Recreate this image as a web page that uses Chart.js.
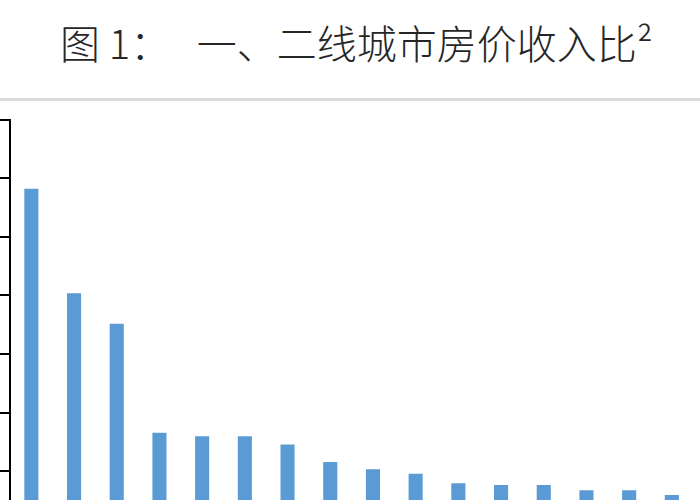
<!DOCTYPE html>
<html>
<head>
<meta charset="utf-8">
<script src="https://cdn.jsdelivr.net/npm/chart.js@4.4.0/dist/chart.umd.min.js"></script>
<style>
  html, body { margin: 0; padding: 0; width: 700px; height: 500px; overflow: hidden; background: #ffffff; }
  #title {
    position: absolute; left: 60px; top: 19px;
    font-family: "Noto Sans CJK SC", sans-serif; font-size: 40px; font-weight: 300; line-height: 46px;
    color: #262626; white-space: pre;
  }
  #rule { position: absolute; left: 0; top: 98px; width: 700px; height: 3px; background: #dadada; }
  #wrap { position: absolute; left: 0; top: 0; width: 700px; height: 600px; }
</style>
</head>
<body>
<div id="title">图 1：   一、二线城市房价收入比²</div>
<div id="rule"></div>
<div id="wrap"><canvas id="c"></canvas></div>
<script>
// Categories (city names are below the visible crop; placeholders by rank)
const categories = ["1","2","3","4","5","6","7","8","9","10","11","12","13","14","15","16"];
// House price to income ratio
const ratioValues = [34.1, 25.2, 22.6, 13.3, 13.0, 13.0, 12.3, 10.8, 10.2, 9.8, 9.0, 8.85, 8.85, 8.4, 8.4, 8.0];
// Axis range / ticks (tick labels lie outside the visible crop)
const yMin = 0;
const yMax = 40;
const yStep = 5;

new Chart(document.getElementById('c'), {
  type: 'bar',
  data: {
    labels: categories,
    datasets: [{
      data: ratioValues,
      backgroundColor: '#5B9BD5',
      borderWidth: 0,
      categoryPercentage: 1.0,
      barPercentage: 0.33
    }]
  },
  options: {
    responsive: true,
    maintainAspectRatio: false,
    animation: false,
    layout: { padding: { top: 119.5, bottom: 11.2, left: 0, right: 6.8 } },
    plugins: { legend: { display: false }, tooltip: { enabled: false }, title: { display: false } },
    scales: {
      x: { display: false },
      y: {
        min: yMin, max: yMax,
        ticks: { display: false, stepSize: yStep },
        grid: { drawOnChartArea: false, drawTicks: true, tickLength: 10, color: '#000000', lineWidth: 2 },
        border: { display: true, color: '#000000', width: 2 }
      }
    }
  }
});
</script>
</body>
</html>
